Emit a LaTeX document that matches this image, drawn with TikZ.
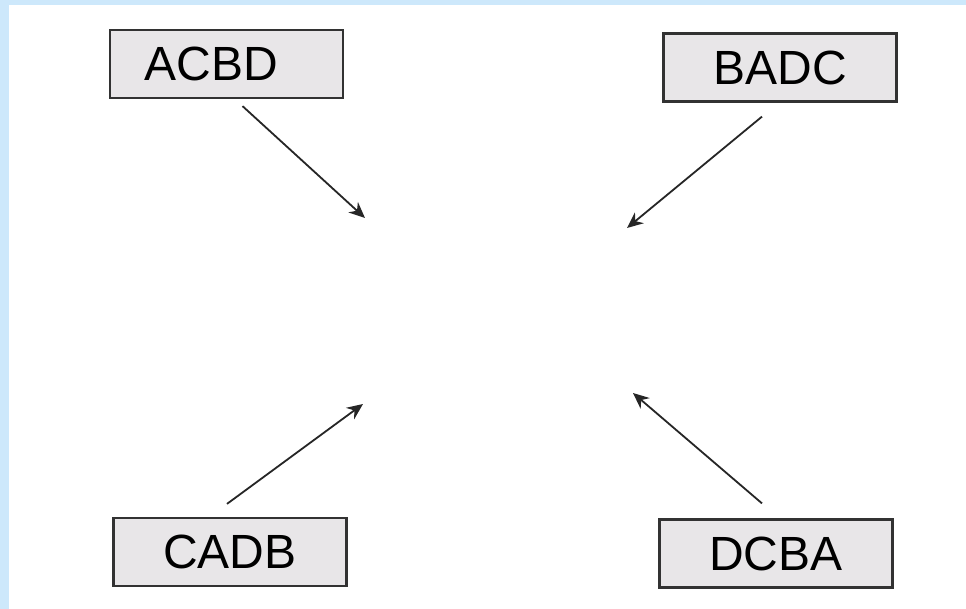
\documentclass[tikz,border=0pt]{standalone}
\usepackage{fontspec}
\setmainfont{Liberation Sans}
\usetikzlibrary{arrows.meta}
\definecolor{bgblue}{RGB}{205,232,251}
\definecolor{boxgray}{RGB}{232,230,232}
\definecolor{edgegray}{RGB}{50,50,50}
\tikzset{
  perm/.style={draw=edgegray, fill=boxgray, line width=1.1pt, minimum width=116.5pt, minimum height=34pt, inner sep=0pt, font=\fontsize{24}{27}\selectfont},
  arr/.style={-{Stealth[length=8pt,width=7pt]}, line width=0.9pt, draw=black!85}
}
\begin{document}
\begin{tikzpicture}[x=0.5pt,y=-0.5pt]
\fill[bgblue] (0,0) rectangle (966,609);
\fill[white] (9,5) rectangle (966,609);

\node[perm] (acbd) at (226.5,64) {\hspace*{-15pt}ACBD};
\node[perm] (badc) at (780,67.5) {BADC};
\node[perm] (cadb) at (230,552) {CADB};
\node[perm] (dcba) at (776,553.5) {DCBA};

\coordinate (tipacbd) at (365,218);
\coordinate (tipbadc) at (627,228);
\coordinate (tipcadb) at (363,404);
\coordinate (tipdcba) at (633,393);

\draw[arr] ([xshift=8pt,yshift=-3.5pt]acbd.south) -- (tipacbd);
\draw[arr] ([xshift=-9pt,yshift=-7pt]badc.south) -- (tipbadc);
\draw[arr] ([xshift=-1.5pt,yshift=6.5pt]cadb.north) -- (tipcadb);
\draw[arr] ([xshift=-7pt,yshift=7.5pt]dcba.north) -- (tipdcba);

\end{tikzpicture}
\end{document}
